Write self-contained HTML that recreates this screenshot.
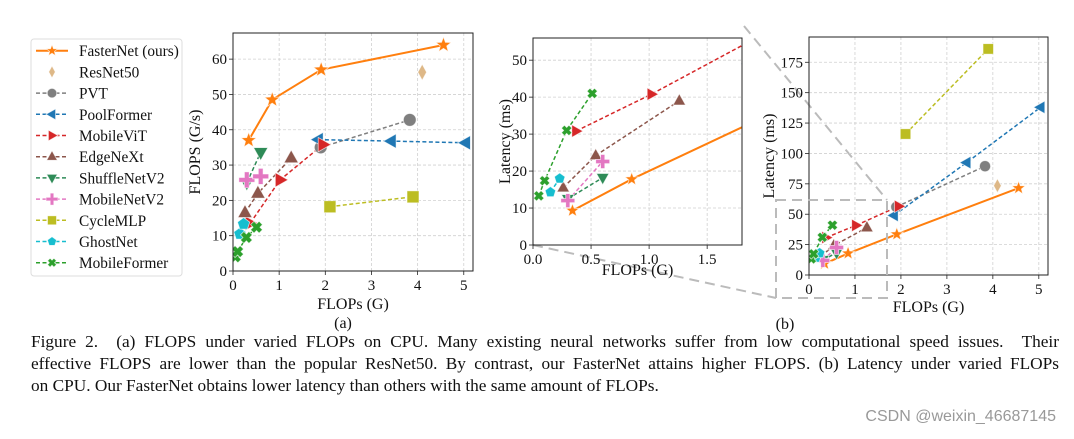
<!DOCTYPE html>
<html><head><meta charset="utf-8">
<style>
body{margin:0;background:#fff;width:1074px;height:439px;overflow:hidden;position:relative;font-family:"Liberation Serif",serif;}
svg{position:absolute;left:0;top:0}
.cap{position:absolute;left:31px;width:1028px;font-size:17.3px;color:#111;white-space:nowrap;line-height:20px}
.j{text-align:justify;text-align-last:justify;white-space:normal}
.wm{position:absolute;left:820px;top:408px;width:236px;text-align:right;white-space:nowrap;font-family:"Liberation Sans",sans-serif;font-size:16px;color:#999}
</style></head><body>
<svg id="fig" width="1074" height="439"></svg>
<div class="cap j" style="top:332px">Figure 2. &nbsp;(a) FLOPS under varied FLOPs on CPU. Many existing neural networks suffer from low computational speed issues. &nbsp;Their</div>
<div class="cap j" style="top:354px">effective FLOPS are lower than the popular ResNet50. By contrast, our FasterNet attains higher FLOPS. (b) Latency under varied FLOPs</div>
<div class="cap" style="top:376px">on CPU. Our FasterNet obtains lower latency than others with the same amount of FLOPs.</div>
<div class="wm">CSDN @weixin_46687145</div>
<script>
// ---- data ----
const seriesNames=["FasterNet (ours)","ResNet50","PVT","PoolFormer","MobileViT","EdgeNeXt","ShuffleNetV2","MobileNetV2","CycleMLP","GhostNet","MobileFormer"];
const fasterX=[0.34,0.85,1.91,4.56], fasterFlops=[37,48.5,57,64], fasterLat=[9.3,17.8,33.5,71.5];
const resnetX=[4.1], resnetFlops=[56.3], resnetLat=[73.5];
const pvtX=[1.9,3.83], pvtFlops=[35,42.8], pvtLat=[56,89.5];
const poolX=[1.85,3.43,5.04], poolFlops=[37.2,36.8,36.3], poolLat=[49,92.5,138];
const vitX=[0.37,1.02,1.95], vitFlops=[13.5,25.8,35.8], vitLat=[30.8,40.8,56.5];
const edgeX=[0.26,0.54,1.26], edgeFlops=[16.5,22,32], edgeLat=[15.5,24.2,39];
const shuffleX=[0.3,0.6], shuffleFlops=[25,33.6], shuffleLat=[12.5,18.2];
const mnv2X=[0.3,0.6], mnv2Flops=[25.8,26.8], mnv2Lat=[12,22.6];
const cycleX=[2.1,3.9], cycleFlops=[18.2,21], cycleLat=[116,186];
const ghostX=[0.15,0.23], ghostFlops=[10.5,13.3], ghostLat=[14.3,18];
const mfX=[0.05,0.1,0.29,0.51], mfFlops=[4,5.5,9.5,12.4], mfLat=[13.3,17.4,31,41];
const ticksA_x=[0,1,2,3,4,5], ticksA_y=[0,10,20,30,40,50,60];
const ticksB_x=[0,0.5,1,1.5], ticksB_xl=["0.0","0.5","1.0","1.5"], ticksB_y=[0,10,20,30,40,50];
const ticksC_x=[0,1,2,3,4,5], ticksC_y=[0,25,50,75,100,125,150,175];

const S=[
 {k:"fasternet",c:"#ff7f0e",m:"star",x:fasterX,a:fasterFlops,l:fasterLat,solid:true,line:true},
 {k:"resnet50",c:"#deb887",m:"diamond",x:resnetX,a:resnetFlops,l:resnetLat,line:false},
 {k:"pvt",c:"#7f7f7f",m:"circle",x:pvtX,a:pvtFlops,l:pvtLat,line:true},
 {k:"poolformer",c:"#1f77b4",m:"tleft",x:poolX,a:poolFlops,l:poolLat,line:true},
 {k:"mobilevit",c:"#d62728",m:"tright",x:vitX,a:vitFlops,l:vitLat,line:true},
 {k:"edgenext",c:"#8c564b",m:"tup",x:edgeX,a:edgeFlops,l:edgeLat,line:true},
 {k:"shufflenetv2",c:"#2e8b57",m:"tdown",x:shuffleX,a:shuffleFlops,l:shuffleLat,line:true},
 {k:"mobilenetv2",c:"#e377c2",m:"plus",x:mnv2X,a:mnv2Flops,l:mnv2Lat,line:true},
 {k:"cyclemlp",c:"#bcbd22",m:"square",x:cycleX,a:cycleFlops,l:cycleLat,line:true},
 {k:"ghostnet",c:"#17becf",m:"pent",x:ghostX,a:ghostFlops,l:ghostLat,line:true},
 {k:"mobileformer",c:"#2ca02c",m:"x",x:mfX,a:mfFlops,l:mfLat,line:true}
];
const NS="http://www.w3.org/2000/svg";
const svg=document.getElementById('fig');
function el(t,at,p){const e=document.createElementNS(NS,t);for(const k in at)e.setAttribute(k,at[k]);(p||svg).appendChild(e);return e;}
function txt(s,x,y,sz,anch,p,rot){const e=el('text',{x:x,y:y,'font-size':sz,'text-anchor':anch||'middle','font-family':'Liberation Serif, serif',fill:'#111'},p);if(rot)e.setAttribute('transform','rotate(-90 '+x+' '+y+')');e.textContent=s;return e;}
function pts(a){return a.map(p=>p[0].toFixed(1)+','+p[1].toFixed(1)).join(' ');}
function marker(g,type,cx,cy,r,c){
 const st={fill:c,stroke:'#fff','stroke-width':0.8,'stroke-opacity':0.7};let e;
 const poly=(arr)=>el('polygon',Object.assign({points:pts(arr)},st),g);
 if(type==='circle')e=el('circle',Object.assign({cx:cx,cy:cy,r:r*0.8},st),g);
 else if(type==='square')e=el('rect',Object.assign({x:cx-r*0.75,y:cy-r*0.75,width:r*1.5,height:r*1.5},st),g);
 else if(type==='diamond')e=poly([[cx,cy-r],[cx+r*0.55,cy],[cx,cy+r],[cx-r*0.55,cy]]);
 else if(type==='tup')e=poly([[cx,cy-r],[cx+r*0.9,cy+r*0.6],[cx-r*0.9,cy+r*0.6]]);
 else if(type==='tdown')e=poly([[cx,cy+r],[cx+r*0.9,cy-r*0.6],[cx-r*0.9,cy-r*0.6]]);
 else if(type==='tleft')e=poly([[cx-r,cy],[cx+r*0.6,cy-r*0.9],[cx+r*0.6,cy+r*0.9]]);
 else if(type==='tright')e=poly([[cx+r,cy],[cx-r*0.6,cy-r*0.9],[cx-r*0.6,cy+r*0.9]]);
 else if(type==='pent'){const a=[];for(let i=0;i<5;i++){const t=-Math.PI/2+i*2*Math.PI/5;a.push([cx+r*0.8*Math.cos(t),cy+r*0.8*Math.sin(t)]);}e=poly(a);}
 else if(type==='star'){const a=[];for(let i=0;i<10;i++){const t=-Math.PI/2+i*Math.PI/5;const rr=i%2?r*0.42:r;a.push([cx+rr*Math.cos(t),cy+rr*Math.sin(t)]);}e=poly(a);}
 else if(type==='plus'){const w=r*0.3;e=poly([[cx-w,cy-r],[cx+w,cy-r],[cx+w,cy-w],[cx+r,cy-w],[cx+r,cy+w],[cx+w,cy+w],[cx+w,cy+r],[cx-w,cy+r],[cx-w,cy+w],[cx-r,cy+w],[cx-r,cy-w],[cx-w,cy-w]]);}
 else if(type==='x'){const w=r*0.3,q=r*0.75;const g2=el('g',{transform:'translate('+cx+','+cy+') rotate(45)'},g);
  const a=[[-w,-q],[w,-q],[w,-w],[q,-w],[q,w],[w,w],[w,q],[-w,q],[-w,w],[-q,w],[-q,-w],[-w,-w]];
  e=el('polygon',Object.assign({points:pts(a)},st),g2);}
 return e;
}
let clipN=0;
function chart(o){
 const g=el('g',{});
 
 
 const X=v=>o.x0+(v-o.xmin)*(o.x1-o.x0)/(o.xmax-o.xmin);
 const Y=v=>o.y1-(v-o.ymin)*(o.y1-o.y0)/(o.ymax-o.ymin);
 o.xt.forEach((t,i)=>{const x=X(t);
  el('line',{x1:x,x2:x,y1:o.y0,y2:o.y1,stroke:'#d0d0d0','stroke-width':0.8,'stroke-dasharray':'3,2'},g);
  el('line',{x1:x,x2:x,y1:o.y1,y2:o.y1+4,stroke:'#222','stroke-width':0.8},g);
  const tl=txt(o.xtl?o.xtl[i]:String(t),x,o.y1+19,15,'middle',g);
  
  
 });
 o.yt.forEach(t=>{const y=Y(t);
  el('line',{x1:o.x0,x2:o.x1,y1:y,y2:y,stroke:'#d0d0d0','stroke-width':0.8,'stroke-dasharray':'3,2'},g);
  el('line',{x1:o.x0-4,x2:o.x0,y1:y,y2:y,stroke:'#222','stroke-width':0.8},g);
  const tl=txt(String(t),o.x0-6,y+5,15,'end',g);
  
  
 });
 const id='c'+(clipN++);
 const cp=el('clipPath',{id:id},g);el('rect',{x:o.x0,y:o.y0,width:o.x1-o.x0,height:o.y1-o.y0},cp);
 const pg=el('g',{'clip-path':'url(#'+id+')'},g);
 S.forEach(s=>{
  const ys=s[o.key];
  const sg=el('g',{},pg);
  
  
  if(s.line&&s.x.length>1){
   el('polyline',{points:s.x.map((x,i)=>X(x).toFixed(1)+','+Y(ys[i]).toFixed(1)).join(' '),fill:'none',stroke:s.c,'stroke-width':s.solid?2:1.5,'stroke-dasharray':s.solid?'none':'4,2.5'},sg);
  }
 });
 S.forEach(s=>{
  const ys=s[o.key];
  s.x.forEach((x,i)=>{
   const m=marker(pg,s.m,X(x),Y(ys[i]),o.ms,s.c);
   
   
  });
 });
 el('rect',{x:o.x0,y:o.y0,width:o.x1-o.x0,height:o.y1-o.y0,fill:'none',stroke:'#222','stroke-width':1},g);
 const xt=txt(o.xl,(o.x0+o.x1)/2,o.y1+o.tOff,16,'middle',g);
 
 
 const yt=txt(o.yl,o.ylx,(o.y0+o.y1)/2,16,'middle',g,true);
 
 
}
// zoom connector lines
el('line',{x1:533,y1:245,x2:776,y2:298,stroke:'#bbb','stroke-width':2,'stroke-dasharray':'10,6'});
el('line',{x1:744,y1:26,x2:887,y2:200,stroke:'#bbb','stroke-width':2,'stroke-dasharray':'10,6'});
chart({name:'chart-a-flops',key:'a',x0:233,x1:473,y0:33,y1:271,xmin:0,xmax:5.2,ymin:0,ymax:67.4,xt:ticksA_x,yt:ticksA_y,xl:'FLOPs (G)',yl:'FLOPS (G/s)',ylx:200,ms:8,tOff:38});
chart({name:'chart-b-latency-zoom',key:'l',x0:533,x1:742,y0:38,y1:245,xmin:0,xmax:1.8,ymin:0,ymax:56,xt:ticksB_x,xtl:ticksB_xl,yt:ticksB_y,xl:'FLOPs (G)',yl:'Latency (ms)',ylx:510,ms:7,tOff:30});
chart({name:'chart-c-latency',key:'l',x0:809,x1:1048,y0:37,y1:275,xmin:0,xmax:5.2,ymin:0,ymax:195.8,xt:ticksC_x,yt:ticksC_y,xl:'FLOPs (G)',yl:'Latency (ms)',ylx:774,ms:7,tOff:37});
const zr=el('rect',{x:776,y:200,width:111,height:98,fill:'none',stroke:'#bbb','stroke-width':2,'stroke-dasharray':'10,6'});


const la=txt('(a)',343,328,16,'middle');
const lb=txt('(b)',785,329,16,'middle');
// legend
const lg=el('g',{});


el('rect',{x:31,y:39,width:151,height:237,rx:3,fill:'#fff',stroke:'#ddd','stroke-width':1},lg);
S.forEach((s,i)=>{
 const y=50.7+i*21.2;
 const eg=el('g',{},lg);
 
 
 if(s.line)el('line',{x1:36,x2:68,y1:y,y2:y,stroke:s.c,'stroke-width':s.solid?2:1.5,'stroke-dasharray':s.solid?'none':'4,2.5'},eg);
 marker(eg,s.m,52,y,6,s.c);
 txt(seriesNames[i],79,y+5.5,15.3,'start',eg);
});
</script>
</body></html>
